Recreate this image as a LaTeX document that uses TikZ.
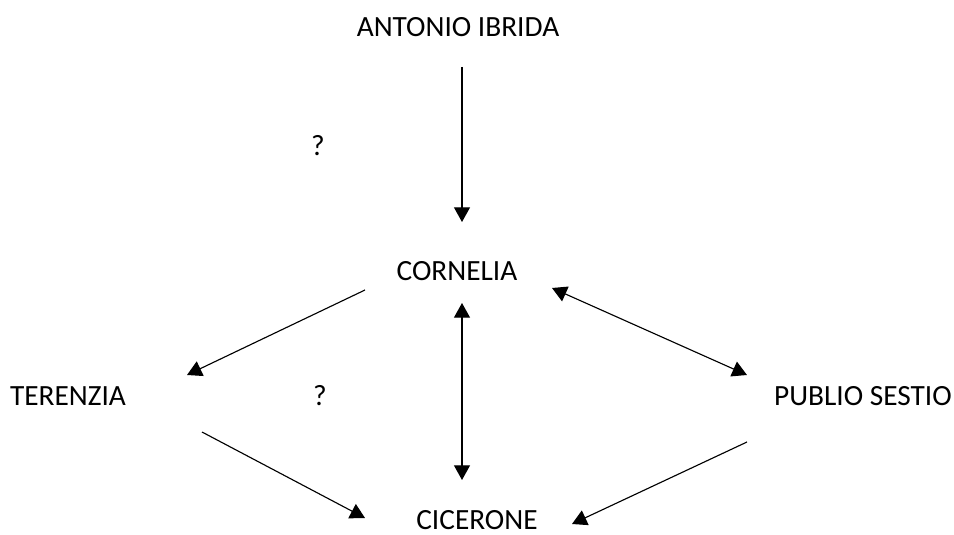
\documentclass[tikz,border=0pt]{standalone}
\usepackage{fontspec}
\setmainfont{Carlito}
\usetikzlibrary{arrows.meta,calc}
\begin{document}
\begin{tikzpicture}[x=0.75pt,y=-0.75pt,
		person/.style={inner sep=0pt,font=\fontsize{22}{26}\selectfont},
		arr/.style={line width=0.85pt,-{Triangle[length=11pt,width=12pt]}},
		darr/.style={line width=0.85pt,{Triangle[length=11pt,width=12pt]}-{Triangle[length=11pt,width=12pt]}}]
	\useasboundingbox (0,0) rectangle (954,535);
	\node[person] (antonio) at (458,27) {ANTONIO IBRIDA};
	\node[person] (q1) at (318,146) {?};
	\node[person] (cornelia) at (457,271) {CORNELIA};
	\node[person] (terenzia) at (68,396) {TERENZIA};
	\node[person] (q2) at (320,396) {?};
	\node[person] (publio) at (863,396) {PUBLIO SESTIO};
	\node[person] (cicerone) at (477,520) {CICERONE};
	\draw[arr] ($(antonio)+(4,40)$) -- ($(cornelia)+(5,-49)$);
	\draw[darr] ($(cornelia)+(5,32)$) -- ($(cicerone)+(-15,-40)$);
	\draw[arr] ($(cornelia)+(-92,19)$) -- ($(terenzia)+(119,-21)$);
	\draw[darr] ($(cornelia)+(95,17)$) -- ($(publio)+(-116,-21)$);
	\draw[arr] ($(terenzia)+(134,36)$) -- ($(cicerone)+(-112,-2)$);
	\draw[arr] ($(publio)+(-116,46)$) -- ($(cicerone)+(95,4)$);
\end{tikzpicture}
\end{document}
